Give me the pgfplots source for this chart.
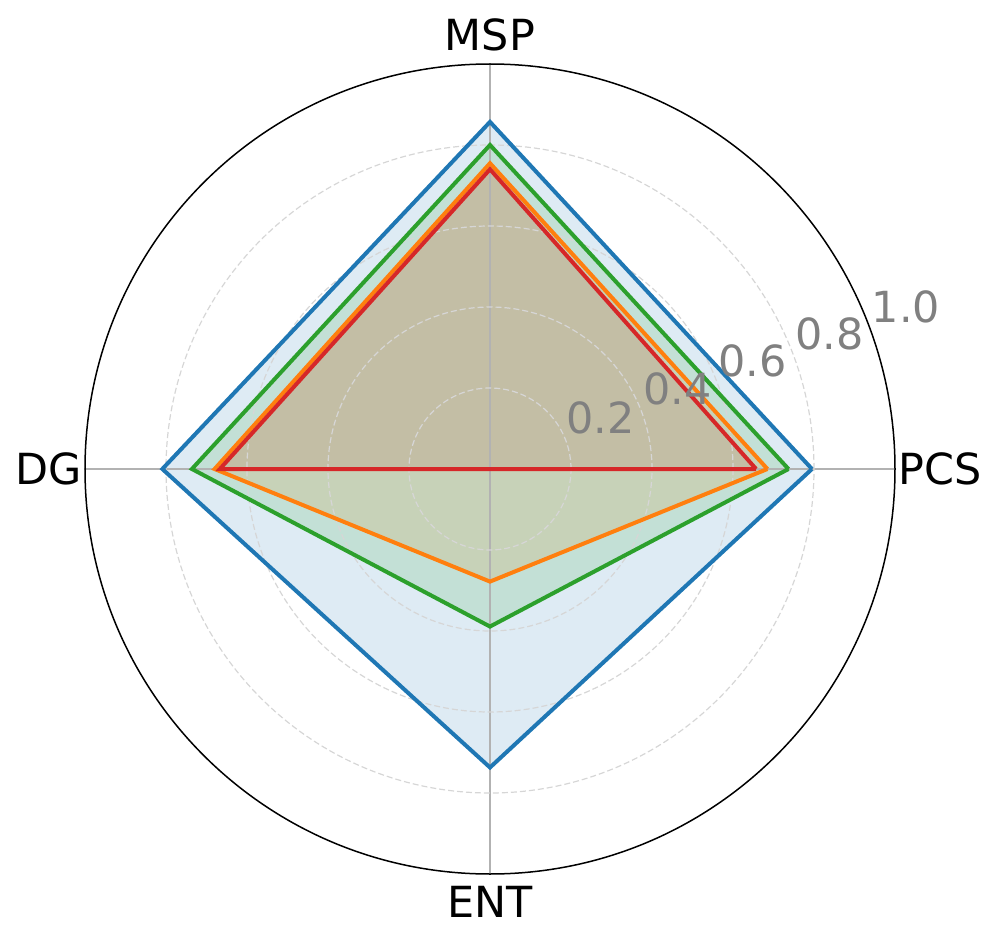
\documentclass[border=0pt]{standalone}
\usepackage{fontspec}
\setmainfont{DejaVu Sans}
\usepackage{pgfplots}
\usepackage{pgfplotstable}
\pgfplotsset{compat=1.18}
\usepgfplotslibrary{polar}
\definecolor{tabblue}{RGB}{31,119,180}
\definecolor{taborange}{RGB}{255,127,14}
\definecolor{tabgreen}{RGB}{44,160,44}
\definecolor{tabred}{RGB}{214,39,40}
\newcommand{\lbl}{\fontsize{12.2}{14.6}\selectfont}
% angle (PCS, MSP, DG, ENT, PCS again to close) and score
\pgfplotstableread{
a r
0 0.795
90 0.857
180 0.809
270 0.737
360 0.795
}\blueT
\pgfplotstableread{
a r
0 0.685
90 0.755
180 0.680
270 0.278
360 0.685
}\orangeT
\pgfplotstableread{
a r
0 0.737
90 0.800
180 0.736
270 0.389
360 0.737
}\greenT
\pgfplotstableread{
a r
0 0.657
90 0.740
180 0.667
270 0.000
360 0.657
}\redT
\begin{document}
\begin{tikzpicture}
\begin{polaraxis}[
    set layers,
    at={(0,0)}, anchor=center,
    width=81mm, height=81mm, scale only axis,
    xmin=0, xmax=360, ymin=0, ymax=1,
    xtick={0,90,180,270}, xticklabels={PCS,MSP,DG,ENT},
    ytick={0.2,0.4,0.6,0.8}, yticklabels={},
    xticklabel style={font=\lbl, inner xsep=0.3mm, inner ysep=1.2mm},
    major tick length=0pt,
    xmajorgrids, ymajorgrids,
    x grid style={color=black!30, line width=0.15mm},
    y grid style={color=black!16, line width=0.12mm, dash pattern=on 0.6mm off 0.3mm},
    axis line style={black, line width=0.15mm},
    y axis line style={draw=none},
    clip=false,
    fillst/.style={draw=none, fill=#1, fill opacity=0.15, mark=none, on layer=axis background},
    linest/.style={draw=#1, line width=0.4mm, line join=miter, mark=none},
]
% translucent areas under the grid
\addplot[fillst=tabred] table[x=a, y=r] {\redT};
\addplot[fillst=tabblue] table[x=a, y=r] {\blueT};
\addplot[fillst=taborange] table[x=a, y=r] {\orangeT};
\addplot[fillst=tabgreen] table[x=a, y=r] {\greenT};
% outlines
\addplot[linest=tabblue] table[x=a, y=r] {\blueT};
\addplot[linest=taborange] table[x=a, y=r] {\orangeT};
\addplot[linest=tabgreen] table[x=a, y=r] {\greenT};
\addplot[linest=tabred] table[x=a, y=r] {\redT};
\begin{scope}[every node/.style={anchor=base west, inner sep=0pt, text=black!50, font=\lbl}]
\node at (axis cs:25.3,0.207) {0.2};
\node at (axis cs:23.0,0.409) {0.4};
\node at (axis cs:22.2,0.607) {0.6};
\node at (axis cs:21.5,0.808) {0.8};
\node at (axis cs:21.0,1.008) {1.0};
\end{scope}
\end{polaraxis}
\path (-49mm,-46.9mm) rectangle (50.6mm,46.9mm);
\end{tikzpicture}
\end{document}
